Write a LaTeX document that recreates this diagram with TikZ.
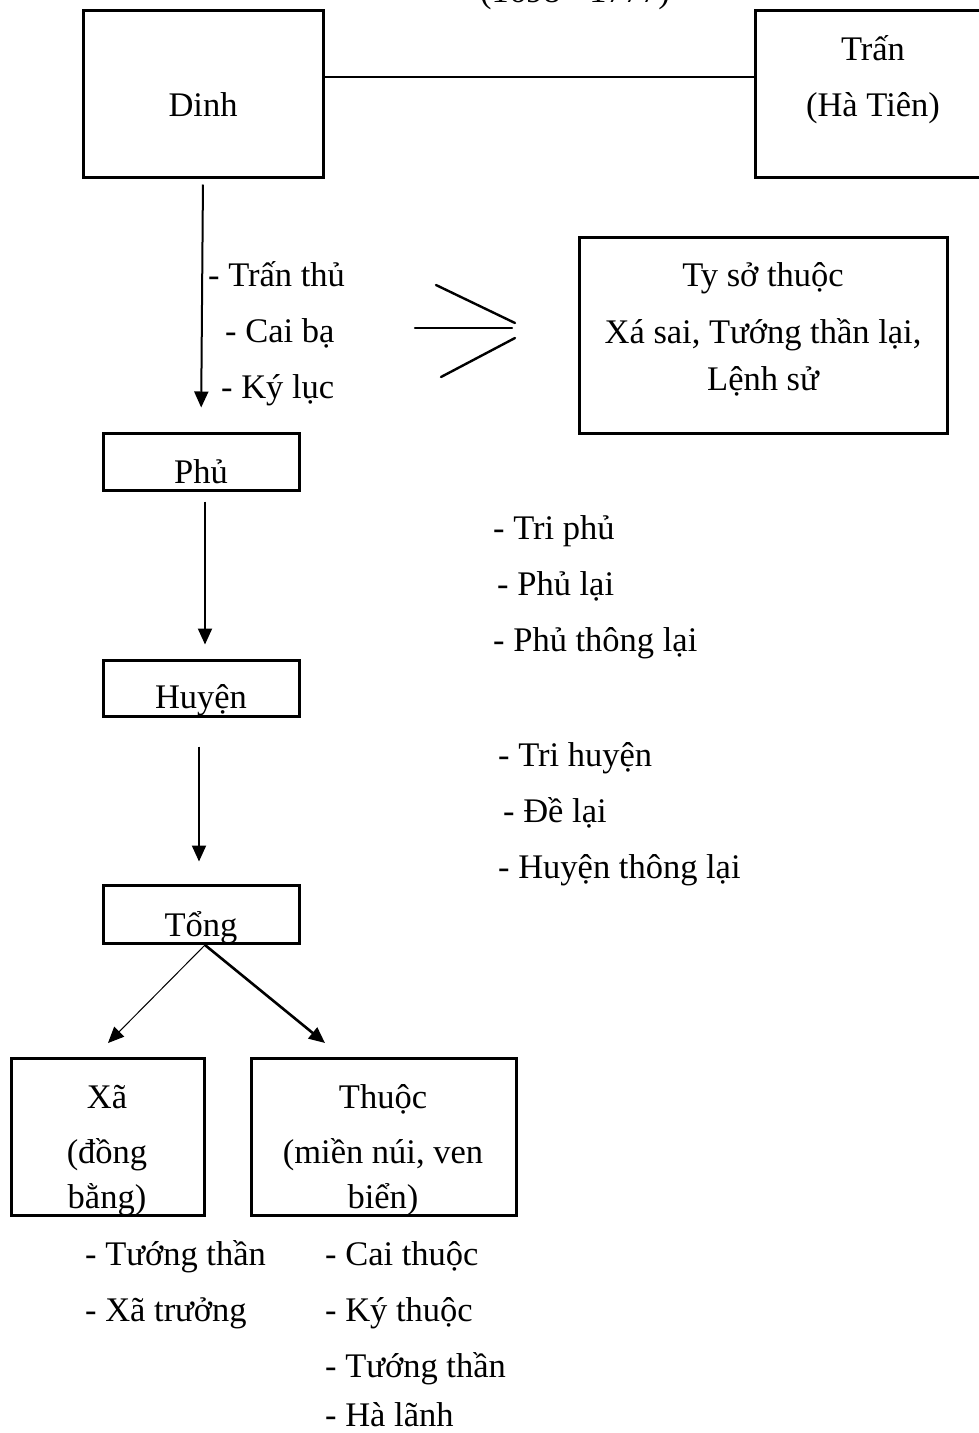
\documentclass[tikz,border=0pt]{standalone}
\usepackage{fontspec}
\setmainfont{Liberation Serif}
\usetikzlibrary{arrows.meta}
\begin{document}
\begin{tikzpicture}[x=1pt,y=-1pt,
  box/.style={draw,line width=3pt,rectangle,inner sep=0pt},
  txt/.style={inner sep=0pt,anchor=base west,font=\fontsize{34.5}{40}\selectfont},
  ctxt/.style={inner sep=0pt,anchor=base,font=\fontsize{34.5}{40}\selectfont},
  link/.style={line width=2.2pt},
  arr/.style={line width=2pt,-{Triangle[length=16pt,width=14pt]}},
  thinarr/.style={line width=1pt,-{Triangle[length=16pt,width=14pt]}},
  mark3/.style={line width=2.4pt,line cap=round}]
\useasboundingbox (0,0) rectangle (979,1433);
\clip (0,0) rectangle (979,1433);

% period heading, partly above the page edge
\node[ctxt] (period) at (575,2) {(1698 - 1777)};

% top level
\node[box,minimum width=240,minimum height=167] (dinh) at (203,93.5) {};
\node[ctxt] (dinhT) at (203,116) {Dinh};
\node[box,minimum width=240,minimum height=167] (tran) at (875,93.5) {};
\node[ctxt] (tranT1) at (873,60) {Trấn};
\node[ctxt] (tranT2) at (873,116) {(Hà Tiên)};
\draw[link] (dinh.east |- 0,77) -- (tran.west |- 0,77);

% officials of the Dinh
\node[txt] (ts) at (208,286) {- Trấn thủ};
\node[txt] (cb) at (225,342) {- Cai bạ};
\node[txt] (kl) at (221,398) {- Ký lục};

% pointer towards the subordinate offices
\coordinate (pa) at (415,328);
\coordinate (pb) at (512,328);
\coordinate (pc) at (436,285);
\coordinate (pd) at (515,323);
\coordinate (pe) at (441,377);
\coordinate (pf) at (515,338);
\draw[mark3] (pa) -- (pb);
\draw[mark3] (pc) -- (pd);
\draw[mark3] (pe) -- (pf);

\node[box,minimum width=368,minimum height=196] (ty) at (763.5,335) {};
\node[ctxt] (ty1) at (763,286) {Ty sở thuộc};
\node[ctxt] (ty2) at (763,343) {Xá sai, Tướng thần lại,};
\node[ctxt] (ty3) at (763,390) {Lệnh sử};

% Phu
\node[box,minimum width=196,minimum height=57] (phu) at (201,461.5) {};
\node[ctxt] (phuT) at (201,483) {Phủ};
\node[txt] (p1) at (493,539) {- Tri phủ};
\node[txt] (p2) at (497,595) {- Phủ lại};
\node[txt] (p3) at (493,651) {- Phủ thông lại};

% Huyen
\node[box,minimum width=196,minimum height=56] (huyen) at (201,688) {};
\node[ctxt] (huyenT) at (201,708) {Huyện};
\node[txt] (h1) at (498,766) {- Tri huyện};
\node[txt] (h2) at (503,822) {- Đề lại};
\node[txt] (h3) at (498,878) {- Huyện thông lại};

% Tong
\node[box,minimum width=196,minimum height=58] (tong) at (201,914) {};
\node[ctxt] (tongT) at (201,936) {Tổng};

% Xa and Thuoc
\node[box,minimum width=193,minimum height=157] (xa) at (107.5,1136.5) {};
\node[ctxt] (xa1) at (107,1108) {Xã};
\node[ctxt] (xa2) at (107,1163) {(đồng};
\node[ctxt] (xa3) at (107,1208) {bằng)};
\node[box,minimum width=265,minimum height=157] (thuoc) at (383.5,1136.5) {};
\node[ctxt] (th1) at (383,1108) {Thuộc};
\node[ctxt] (th2) at (383,1163) {(miền núi, ven};
\node[ctxt] (th3) at (383,1208) {biển)};

\node[txt] (x1) at (85,1265) {- Tướng thần};
\node[txt] (x2) at (85,1321) {- Xã trưởng};
\node[txt] (t1) at (325,1265) {- Cai thuộc};
\node[txt] (t2) at (325,1321) {- Ký thuộc};
\node[txt] (t3) at (325,1377) {- Tướng thần};
\node[txt] (t4) at (325,1426) {- Hà lãnh};

% connectors
\draw[arr,shorten <=6pt,shorten >=24pt] (dinh.south) -- (phu.north);
\draw[arr,shorten <=10pt,shorten >=14pt] ([xshift=4pt]phu.south) -- ([xshift=4pt]huyen.north);
\draw[arr,shorten <=29pt,shorten >=22pt] ([xshift=-2pt]huyen.south) -- ([xshift=-2pt]tong.north);
\coordinate (apex) at (205,945);
\coordinate (xatip) at (108,1043);
\coordinate (thtip) at (325,1043);
\draw[thinarr] (apex) -- (xatip);
\draw[arr,line width=2.6pt] (apex) -- (thtip);
\end{tikzpicture}
\end{document}
